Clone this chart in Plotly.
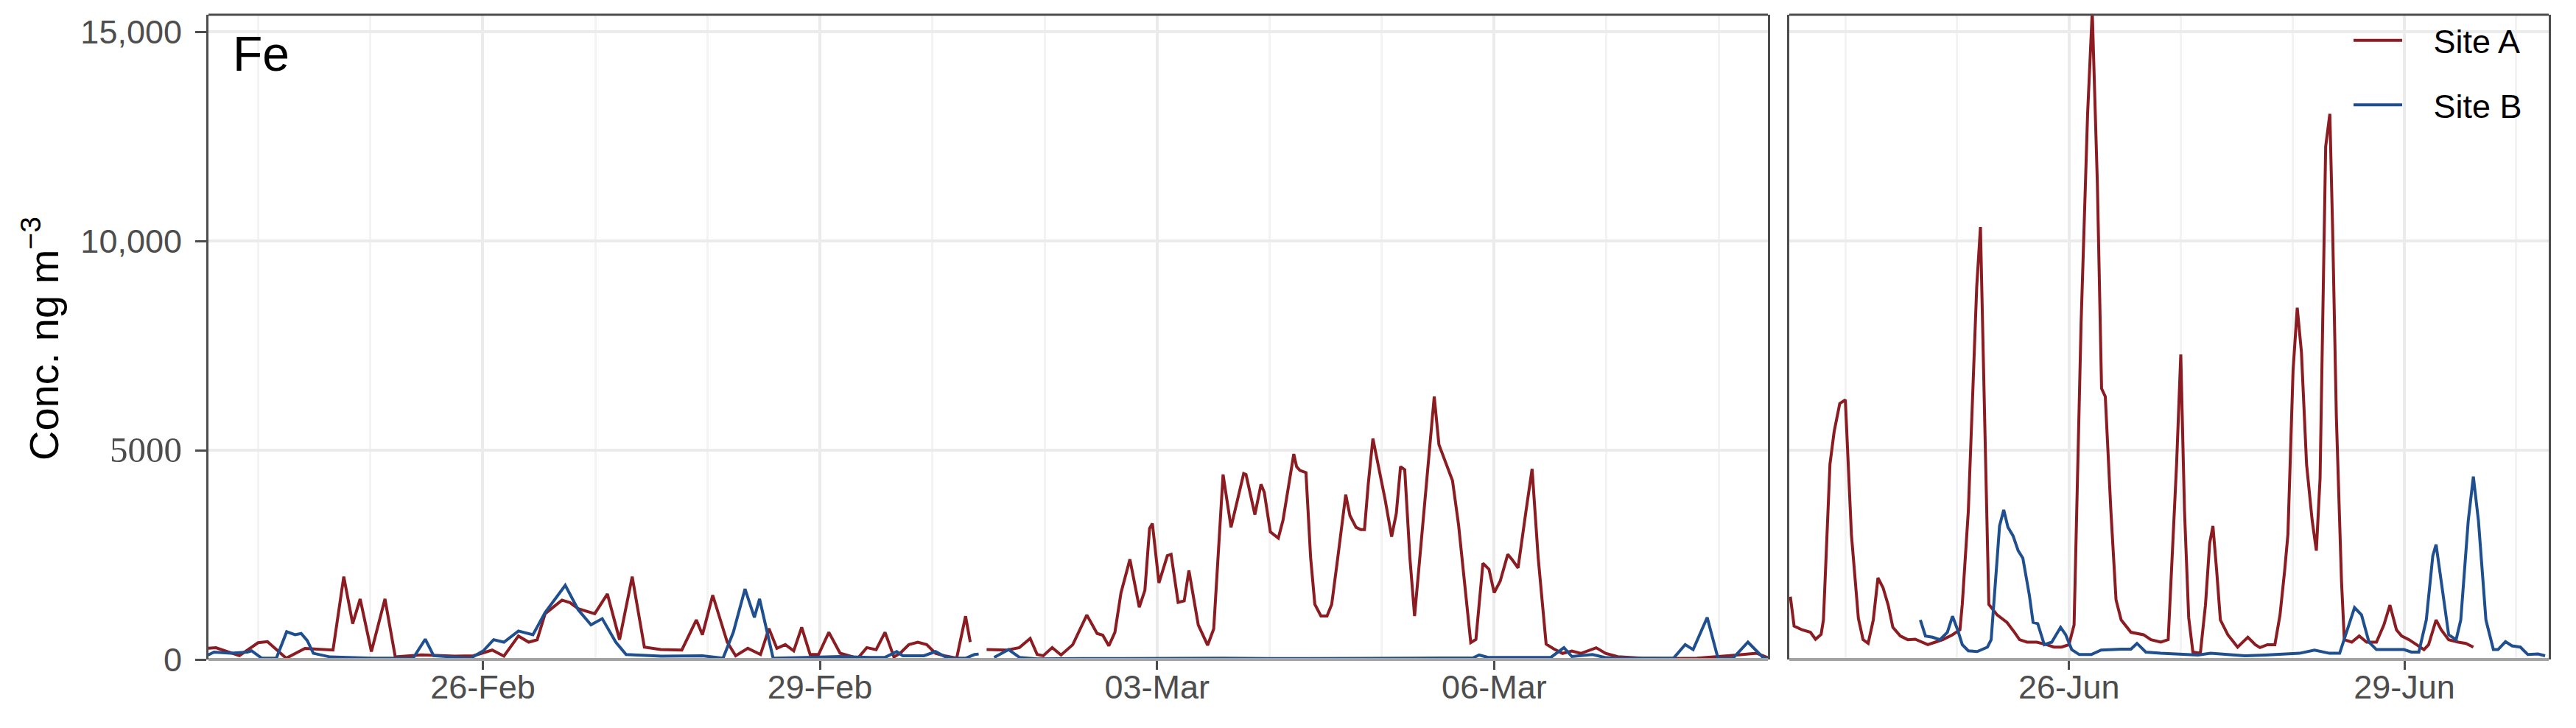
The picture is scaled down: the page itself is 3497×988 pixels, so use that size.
import pandas as pd
import plotly.graph_objects as go

# --- data ---------------------------------------------------------------
# hours after 23-Feb-2020 00:00 (winter campaign) / 23-Jun-2020 00:00 (summer campaign)
# None in a concentration list = missing data (line break)

feb_a_hours = [13.3, 15, 20, 24, 26, 30, 34, 40, 42.3, 44.2, 45.8, 48.2, 51.1, 53.3, 59, 66, 70,
               74, 76.5, 79.6, 81.8, 83.6, 85.3, 88.9, 90.6, 92.4, 95.9, 98.6, 101.2, 103.9, 106.5,
               110, 114.5, 117.6, 118.9, 121.1, 124.2, 126, 128.6, 131.3, 133.1, 134.8, 136.6, 138.4,
               140.1, 141.9, 143.7, 145.9, 148.3, 150.2, 152.1, 154, 156, 157.9, 159.8, 161.1, 163,
               164.9, 166.8, 168.7, 170.6, 173.2, 175.1, 176.1, 177.5, 179.6, 182.1, 184, 186.6,
               188.9, 190.4, 191.7, 193.6, 195.5, 198, 201, 203.2, 204.4, 205.7, 207, 208.3, 210.2,
               212.2, 213.4, 214.4, 215, 216.4, 218.2, 219, 220.5, 221.8, 222.8, 224.8, 226.8, 228.1,
               230.1, 231.8, 232.4, 234.5, 235, 236.9, 238.2, 238.9, 240.2, 241.9, 242.9, 245.2,
               245.8, 246.5, 247.8, 248.8, 249.7, 251, 252.3, 253.3, 254.6, 256.3, 257.2, 258.5,
               259.5, 260.3, 261.1, 262.1, 263.2, 264.7, 266.1, 267.1, 268, 268.9, 270, 271, 272.3,
               273.9, 275.2, 276.2, 277.8, 279.1, 280.4, 281.7, 283, 284.1, 285.6, 286.9, 288, 289.3,
               290.9, 291.9, 293.1, 294.8, 296.1, 297.4, 299.1, 300.7, 302.6, 304.6, 306.5, 309.8,
               311.8, 314.4, 319.6, 324.8, 331.3, 337.9, 344.1, 346.5]
feb_a_conc = [266, 280, 90, 400, 425, 30, 265, 225, 1980, 857, 1447, 190, 1447, 60, 110, 80, 90,
              225, 80, 560, 414, 470, 1093, 1418, 1359, 1211, 1093, 1566, 473, 1980, 295,
              236, 225, 945, 590, 1536, 414, 89, 266, 118, 738, 266, 354, 205,
              768, 118, 118, 650, 150, 89, 30, 284, 236, 650, 60, 148, 354,
              414, 354, 148, 89, 30, 1034, 414, None, 236, 236, 224, 284,
              502, 118, 89, 284, 106, 354, 1063, 620, 580, 325, 650, 1595, 2393,
              1250, 1654, 3131, 3250, 1830, 2481, 2511, 1365, 1400, 2127, 827, 340, 730,
              4420, 3158, 3440, 4441, 4419, 3460, 4185, 3995, 3047, 2901, 3326, 4910,
              4609, 4520, 4464, 2433, 1317, 1038, 1038, 1317, 2433, 3939, 3437, 3158,
              3102, 3102, 4185, 5279, 4665, 3828, 2935, 3493, 4609, 4531, 2433, 1038, 2656,
              4665, 6283, 5134, 4665, 4274, 3214, 1875, 402, 480, 2299, 2154, 1596, 1875,
              2511, 2377, 2187, 3549, 4553, 2433, 368, 257, 145, 200, 145, 279,
              145, 67, 33, 20, 33, 90, 148, 40]

feb_b_hours = [13.3, 14.6, 18.2, 21.7, 22.6, 24.8, 27.9, 30.1, 31.9, 33.2, 34.5, 35.8, 39.4, 48.2,
               57.1, 59.7, 61.5, 69.4, 72.1, 74.3, 76.5, 79.6, 82.7, 85.3, 89.6, 92.4, 95.1, 97.5,
               100.4, 102.6, 110.1, 118.9, 123.3, 125.5, 128, 130, 131.1, 134, 141, 148.3, 154.7,
               157.9, 160.4, 161.7, 166.2, 168.7, 170.6, 172.5, 175.1, 177, 177.9, 179.5, 181.2,
               184.3, 186.6, 190.4, 200, 210, 220, 230, 240, 250, 260, 270, 280, 283.5, 284.8,
               286.7, 300.1, 302.9, 304.6, 307.1, 309, 311.6, 314.1, 326.3, 328.8, 330.5, 333.5,
               335.8, 339, 342.2, 345.4, 346.7]
feb_b_conc = [106, 177, 150, 177, 207, 30, 30, 662, 590, 620, 450, 148, 60, 30,
              30, 484, 89, 30, 207, 473, 414, 680, 590, 1122, 1772, 1182, 827, 975,
              414, 118, 80, 90, 30, 650, 1684, 1004, 1447, 30, 50, 71, 50,
              50, 189, 89, 89, 189, 71, 30, 30, 118, 130, None, 50,
              236, 50, 15, 20, 25, 20, 30, 20, 30, 25, 30, 35, 40, 106,
              50, 50, 284, 71, 89, 118, 50, 30, 30, 354, 236, 1004,
              30, 30, 414, 50, 20]

jun_a_hours = [12.2, 13, 14.7, 16.5, 17.6, 18.8, 19.3, 20.7, 21.6, 22.8, 24, 25.3, 26.8, 27.8,
               28.9, 30, 31, 32.1, 33.2, 34.2, 35.8, 37.4, 39, 40.6, 41.7, 43.3, 44.9, 47, 48.6,
               49.1, 50.4, 52.2, 53, 53.9, 54.8, 56.6, 58.7, 60.3, 61.4, 63, 65.1, 67.2, 68.8,
               70.4, 72, 73.1, 74.6, 76, 77, 78.1, 79, 79.8, 81, 82.1, 83.2, 85.3, 88, 89.6,
               91.7, 93.3, 95.1, 96, 96.8, 97.7, 98.6, 100.2, 101.3, 102.2, 102.9, 103.7, 104.5,
               106.1, 108.2, 110.4, 112, 113, 114.6, 116.2, 117.3, 118.3, 119, 120.1, 121, 121.9,
               123, 124.2, 125.1, 125.9, 126.5, 127.1, 128, 128.6, 129.4, 130.5, 131.1, 132.7,
               134.3, 135.9, 138, 139.6, 140.9, 142.3, 143.4, 145, 146.6, 148.2, 149.2, 150.8,
               151.9, 153.5, 155.6, 157.2, 158.8]
jun_a_conc = [1500, 800, 709, 650, 484, 600, 945, 4665, 5446, 6116, 6205, 2991, 982, 473,
              384, 945, 1950, 1713, 1300, 768, 561, 473, 484, 414, 354, 414, 473, 591, 709,
              1317, 3549, 8906, 10334, 5781, 1317, 1063, 886, 650, 473, 414, 414, 354, 295,
              295, 354, 827, 8013, 13035, 15490, 11361, 6473, 6283, 3549, 1428, 945, 650, 591, 473,
              414, 473, 4665, 7287, 3549, 1000, 177, 148, 1300, 2777, 3190, 2127, 945,
              591, 295, 532, 354, 284, 354, 354, 1063, 2127, 2991, 6897, 8403, 7343,
              4665, 3326, 2600, 4330, 8013, 12254, 13035, 10245, 5781, 1875, 473, 414,
              561, 414, 414, 827, 1300, 709, 561, 473, 354, 236, 354, 945,
              709, 473, 414, 384, 295]

jun_b_hours = [40.1, 41.2, 42.7, 44.3, 45.9, 47, 48.1, 49.1, 50.4, 52.3, 54.5, 55.3, 56.4, 57.1,
               58, 58.9, 60, 61.1, 62.1, 63.5, 64.3, 65.3, 66.7, 68.3, 70.2, 71.3, 72.6, 74.2,
               76.8, 78.9, 83.2, 85.3, 86.6, 88.5, 91.7, 96, 99.7, 102.4, 106.6, 109.8, 114.1,
               117.3, 121.5, 124.7, 127.9, 130.1, 131.7, 133.3, 134.8, 136.4, 138, 143.9, 145.5,
               147.1, 148.7, 150.1, 150.8, 151.9, 153.5, 155.1, 156.1, 157.7, 158.8, 159.9, 161.5,
               163.1, 164.1, 165.7, 167.1, 168.9, 170.5, 172.7, 174.2]
jun_b_conc = [945, 561, 532, 473, 650, 1034, 709, 354, 207, 189, 295, 473, 2127, 3190,
              3574, 3161, 2954, 2600, 2422, 1536, 886, 857, 354, 414, 768, 591, 236, 118,
              118, 225, 248, 248, 384, 177, 148, 118, 106, 148, 106, 89, 106,
              118, 148, 225, 148, 148, 709, 1241, 1063, 414, 236, 236, 177,
              177, 945, 2481, 2747, 1831, 591, 473, 945, 3308, 4372, 3308, 945,
              236, 236, 425, 325, 295, 118, 130, 89]

site_colors = {"Site A": "#8B1C22", "Site B": "#1F4F8E"}

# figure geometry (px)
W, H = 3497, 988
ML, MR, MT, MB = 283, 37, 20, 93
PW, PH = W - ML - MR, H - MT - MB


def px_x(px):
    return (px - ML) / PW


def px_y(py):
    return (H - MB - py) / PH


def to_time(base, hours):
    return [pd.Timestamp(base) + pd.Timedelta(hours=h) for h in hours]


fig = go.Figure()

series = [
    ("Site A", "2020-02-23", feb_a_hours, feb_a_conc, "x", "y", True),
    ("Site B", "2020-02-23", feb_b_hours, feb_b_conc, "x", "y", True),
    ("Site A", "2020-06-23", jun_a_hours, jun_a_conc, "x2", "y2", False),
    ("Site B", "2020-06-23", jun_b_hours, jun_b_conc, "x2", "y2", False),
]
for name, base, hrs, conc, xa, ya, leg in series:
    fig.add_trace(go.Scatter(
        x=to_time(base, hrs), y=conc, mode="lines",
        name="\u00a0\u00a0\u00a0" + name,
        legendgroup=name, showlegend=leg, connectgaps=False,
        line=dict(color=site_colors[name], width=4),
        xaxis=xa, yaxis=ya,
    ))

DAY = 86400000
grid_major = "#EBEBEB"
grid_minor = "#F3F3F3"
xcommon = dict(
    type="date", tickformat="%d-%b", dtick=3 * DAY,
    ticks="outside", ticklen=13, tickwidth=3, tickcolor="#4D4D4D",
    ticklabelstandoff=-15,
    showgrid=True, gridcolor=grid_major, gridwidth=4,
    showline=False, zeroline=False, automargin=False,
    tickfont=dict(size=45, color="#4D4D4D"),
)
ycommon = dict(
    domain=[0, 1], range=[0, 15405], tickvals=[0, 5000, 10000, 15000],
    showgrid=True, gridcolor=grid_major, gridwidth=4, zeroline=False,
    showline=True, linecolor="#4D4D4D", linewidth=3, mirror=True, automargin=False,
)
fig.update_layout(
    xaxis=dict(xcommon, domain=[0, px_x(2400)],
               range=["2020-02-23 13:24", "2020-03-08 10:28"], tick0="2020-02-26",
               minor=dict(dtick=DAY, tick0="2020-02-26", showgrid=True,
                          gridcolor=grid_minor, gridwidth=2.5), anchor="y"),
    xaxis2=dict(xcommon, domain=[px_x(2429), 1],
                range=["2020-06-23 11:58", "2020-06-30 06:59"], tick0="2020-06-26",
                minor=dict(dtick=DAY, tick0="2020-06-26", showgrid=True,
                           gridcolor=grid_minor, gridwidth=2.5), anchor="y2"),
    yaxis=dict(ycommon,
               ticktext=["0", "<span style='font-family:Liberation Serif;font-size:49px'>5000</span>",
                         "10,000", "15,000"],
               ticks="outside", ticklen=15, tickwidth=3, tickcolor="#4D4D4D",
               ticklabelstandoff=9,
               tickfont=dict(size=45, color="#4D4D4D"), anchor="x"),
    yaxis2=dict(ycommon, showticklabels=False, ticks="", anchor="x2"),
)

# panel top (dark) and bottom (grey) borders
for xr, yr in (("x domain", "y domain"), ("x2 domain", "y2 domain")):
    fig.add_shape(type="line", xref=xr, yref=yr, x0=0, x1=1, y0=1, y1=1,
                  line=dict(color="#4D4D4D", width=3), layer="above")
    fig.add_shape(type="line", xref=xr, yref=yr, x0=0, x1=1, y0=0, y1=0,
                  line=dict(color="#A3A3A3", width=4), layer="above")

fig.add_annotation(text="Fe", xref="paper", yref="paper", x=px_x(314), y=px_y(73),
                   xanchor="left", yanchor="middle", showarrow=False,
                   font=dict(size=66, color="black"))
fig.add_annotation(text="Conc. ng m<sup>\u22123</sup>", xref="paper", yref="paper",
                   x=px_x(55), y=px_y(460), textangle=-90,
                   xanchor="center", yanchor="middle", showarrow=False,
                   font=dict(size=56, color="black"))

fig.update_layout(
    width=W, height=H, margin=dict(l=ML, r=MR, t=MT, b=MB, autoexpand=False),
    paper_bgcolor="white", plot_bgcolor="white",
    font=dict(family="Liberation Sans, Arial, sans-serif", size=45, color="#4D4D4D"),
    legend=dict(x=px_x(3190), y=px_y(19), xanchor="left", yanchor="top",
                bgcolor="rgba(0,0,0,0)", font=dict(size=45, color="black"),
                tracegroupgap=26, itemwidth=66),
)

# page body has a default 8px margin; drop it so the figure sits at the window origin
fig.write_html("out.html", config={"displayModeBar": False},
               post_script="document.body.style.margin='0';")
